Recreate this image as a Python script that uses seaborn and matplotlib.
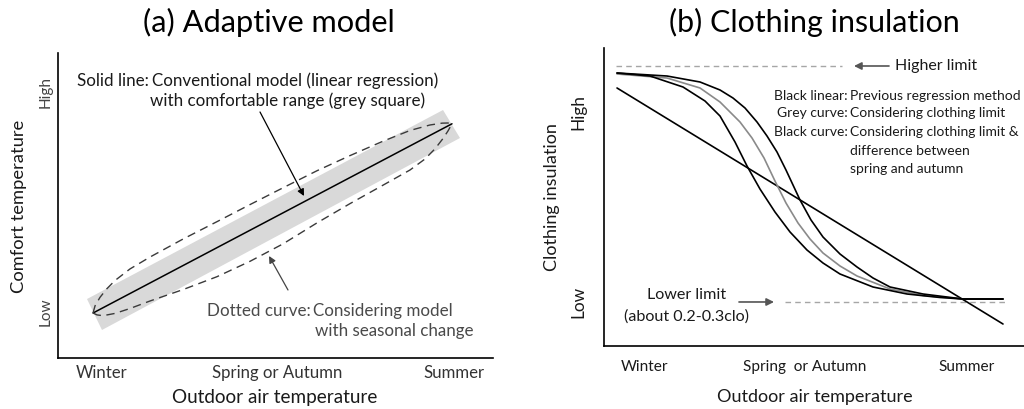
import matplotlib
matplotlib.use("Agg")
import matplotlib.pyplot as plt
import seaborn as sns

# ---------------- data: panel (a) Adaptive model ----------------
a_title = "(a) Adaptive model"
a_xlabel = "Outdoor air temperature"
a_ylabel = "Comfort temperature"
a_xtick_labels = ["Winter", "Spring or Autumn", "Summer"]
a_xtick_pos = [1.0, 5.05, 9.1]
a_ytick_labels = ["Low", "High"]
a_ytick_pos = [1.51, 8.72]

# conventional model (linear regression)
a_line_x = [0.805, 9.057]
a_line_y = [1.475, 7.679]
# comfortable range (grey band) corners
a_band_x = [0.667, 1.011, 9.241, 8.851]
a_band_y = [1.934, 0.918, 7.213, 8.131]
# seasonal-change model, upper dashed curve
a_upper_x = [0.805, 0.851, 0.966, 1.126, 1.310, 1.655, 2.115, 2.874, 3.655,
             4.414, 5.172, 5.954, 6.713, 7.471, 8.092, 8.552, 8.828, 8.966, 9.057]
a_upper_y = [1.475, 1.708, 1.990, 2.275, 2.540, 2.920, 3.310, 3.900, 4.470,
             5.030, 5.580, 6.140, 6.636, 7.108, 7.460, 7.640, 7.700, 7.705, 7.679]
# seasonal-change model, lower dashed curve
a_lower_x = [0.805, 0.897, 1.034, 1.310, 1.655, 2.115, 2.874, 3.655, 4.414,
             5.172, 5.954, 6.713, 7.471, 8.092, 8.437, 8.667, 8.851, 8.966, 9.057]
a_lower_y = [1.475, 1.413, 1.387, 1.462, 1.623, 1.869, 2.243, 2.666, 3.170,
             3.741, 4.430, 5.062, 5.666, 6.164, 6.525, 6.859, 7.197, 7.446, 7.679]

# ---------------- data: panel (b) Clothing insulation ----------------
b_title = "(b) Clothing insulation"
b_xlabel = "Outdoor air temperature"
b_ylabel = "Clothing insulation"
b_xtick_labels = ["Winter", "Spring  or Autumn", "Summer"]
b_xtick_pos = [0.976, 4.786, 8.643]
b_ytick_labels = ["Low", "High"]
b_ytick_pos = [1.477, 7.852]

b_linear_x = [0.310, 9.5]
b_linear_y = [8.658, 0.738]

b_black1_x = [0.310, 1.095, 1.881, 2.405, 2.762, 3.119, 3.405, 3.714, 4.071,
              4.429, 4.833, 5.214, 5.619, 6.405, 7.214, 8.0, 8.548, 9.5]
b_black1_y = [9.161, 9.060, 8.691, 8.221, 7.718, 6.846, 6.040, 5.268, 4.497,
              3.826, 3.221, 2.785, 2.416, 1.980, 1.745, 1.628, 1.577, 1.577]

b_grey_x = [0.310, 1.5, 2.286, 2.762, 3.238, 3.524, 3.810, 4.071, 4.333,
            4.619, 4.905, 5.214, 5.619, 6.024, 6.810, 7.595, 8.548, 9.5]
b_grey_y = [9.128, 8.993, 8.658, 8.188, 7.517, 6.980, 6.309, 5.537, 4.799,
            4.128, 3.591, 3.121, 2.685, 2.349, 1.913, 1.695, 1.577, 1.577]

b_black2_x = [0.310, 1.5, 2.286, 2.762, 3.071, 3.357, 3.643, 3.881, 4.119,
              4.333, 4.5, 4.667, 4.929, 5.214, 5.619, 6.024, 6.405, 6.810,
              7.595, 8.548, 9.5]
b_black2_y = [9.161, 9.060, 8.859, 8.591, 8.322, 7.987, 7.517, 7.047, 6.510,
              5.906, 5.403, 4.899, 4.228, 3.658, 3.087, 2.651, 2.282, 1.980,
              1.745, 1.577, 1.577]

b_high_limit = 9.396
b_high_limit_x = [0.286, 5.667]
b_low_limit = 1.477
b_low_limit_x = [4.310, 9.548]

# ---------------- style ----------------
sns.set_theme(style="white")
plt.rcParams["font.family"] = ["Lato", "DejaVu Sans"]
TXT = "#1a1a1a"
TXT_GREY = "#4a4a4a"

fig = plt.figure(figsize=(10.24, 4.09), dpi=100)
axA = fig.add_axes([58 / 1024, 51 / 409, 435 / 1024, 305 / 409])
axB = fig.add_axes([604 / 1024, 63 / 409, 420 / 1024, 298 / 409])

for ax in (axA, axB):
    ax.set_xlim(0, 10)
    ax.set_ylim(0, 10)
    for s in ("top", "right"):
        ax.spines[s].set_visible(False)
    for s in ("left", "bottom"):
        ax.spines[s].set_color("black")
        ax.spines[s].set_linewidth(1.2)
    ax.tick_params(length=0)

# ---- panel (a) ----
axA.fill(a_band_x, a_band_y, color="#d9d9d9", lw=0, zorder=0)
sns.lineplot(x=a_line_x, y=a_line_y, ax=axA, color="black", lw=1.1,
             sort=False, estimator=None)
for xs, ys in ((a_upper_x, a_upper_y), (a_lower_x, a_lower_y)):
    sns.lineplot(x=xs, y=ys, ax=axA, color="#3a3a3a", lw=1.0,
                 sort=False, estimator=None, linestyle=(0, (6, 4)))

axA.set_xticks(a_xtick_pos, a_xtick_labels, fontsize=11, color="#333333")
axA.set_yticks(a_ytick_pos, a_ytick_labels, fontsize=11, color="#444444",
               rotation=90, va="center")
axA.tick_params(axis="x", pad=5)
axA.tick_params(axis="y", pad=4)
axA.set_xlabel(a_xlabel, fontsize=12, color=TXT)
axA.xaxis.set_label_coords(0.499, -0.131)
axA.xaxis.label.set_va("center")
axA.set_ylabel(a_ylabel, fontsize=12, color=TXT)
axA.yaxis.set_label_coords(-0.090, 0.498)
axA.yaxis.label.set_va("center")
axA.set_title(a_title, fontsize=20, y=(358 - 22) / 305, x=0.485, va="center",
              pad=0, color="black")

ta = dict(fontsize=11, va="center")
a_texts = [
    axA.text(2.09, 9.08, "Solid line:", ha="right", color=TXT, **ta),
    axA.text(2.16, 9.08, "Conventional model (linear regression)", ha="left",
             color=TXT, **ta),
    axA.text(2.12, 8.43, "with comfortable range (grey square)", ha="left",
             color=TXT, **ta),
    axA.text(5.82, 1.54, "Dotted curve:", ha="right", color=TXT_GREY, **ta),
    axA.text(5.86, 1.54, "Considering model", ha="left", color=TXT_GREY, **ta),
    axA.text(5.91, 0.885, "with seasonal change", ha="left", color=TXT_GREY,
             **ta),
]
axA.annotate("", xy=(5.655, 5.311), xytext=(4.644, 8.066),
             arrowprops=dict(arrowstyle="-|>", color="black", lw=0.9,
                             mutation_scale=10, shrinkA=0, shrinkB=0))
axA.annotate("", xy=(4.851, 3.344), xytext=(5.287, 2.230),
             arrowprops=dict(arrowstyle="-|>", color="#444444", lw=0.9,
                             mutation_scale=10, shrinkA=0, shrinkB=0))

# ---- panel (b) ----
sns.lineplot(x=b_high_limit_x, y=[b_high_limit] * 2, ax=axB, color="#a6a6a6",
             lw=1.0, linestyle=(0, (4, 3)), sort=False, estimator=None)
sns.lineplot(x=b_low_limit_x, y=[b_low_limit] * 2, ax=axB, color="#a6a6a6",
             lw=1.0, linestyle=(0, (4, 3)), sort=False, estimator=None)
sns.lineplot(x=b_linear_x, y=b_linear_y, ax=axB, color="black", lw=1.2,
             sort=False, estimator=None)
sns.lineplot(x=b_grey_x, y=b_grey_y, ax=axB, color="#8a8a8a", lw=1.2,
             sort=False, estimator=None)
sns.lineplot(x=b_black1_x, y=b_black1_y, ax=axB, color="black", lw=1.2,
             sort=False, estimator=None)
sns.lineplot(x=b_black2_x, y=b_black2_y, ax=axB, color="black", lw=1.2,
             sort=False, estimator=None)

axB.set_xticks(b_xtick_pos, b_xtick_labels, fontsize=11, color=TXT)
axB.set_yticks(b_ytick_pos, b_ytick_labels, fontsize=11, color=TXT,
               rotation=90, va="center")
axB.tick_params(axis="x", pad=10)
axB.tick_params(axis="y", pad=13)
axB.set_xlabel(b_xlabel, fontsize=12, color=TXT)
axB.xaxis.set_label_coords(0.502, -0.171)
axB.xaxis.label.set_va("center")
axB.set_ylabel(b_ylabel, fontsize=12, color=TXT)
axB.yaxis.set_label_coords(-0.124, 0.5)
axB.yaxis.label.set_va("center")
axB.set_title(b_title, fontsize=20, y=(346 - 22) / 298, va="center", pad=0,
              color="black")

axB.annotate("", xy=(5.952, b_high_limit), xytext=(6.786, b_high_limit),
             arrowprops=dict(arrowstyle="-|>", color="#555555", lw=1.2,
                             mutation_scale=11, shrinkA=0, shrinkB=0))
t_high = axB.text(6.93, b_high_limit, "Higher limit", fontsize=11,
                  va="center", ha="left", color=TXT)
axB.annotate("", xy=(4.048, b_low_limit), xytext=(3.214, b_low_limit),
             arrowprops=dict(arrowstyle="-|>", color="#555555", lw=1.2,
                             mutation_scale=11, shrinkA=0, shrinkB=0))
t_low1 = axB.text(1.976, 1.711, "Lower limit", fontsize=11, va="center",
                  ha="center", color=TXT)
t_low2 = axB.text(1.976, 0.973, "(about 0.2-0.3clo)", fontsize=11,
                  va="center", ha="center", color=TXT)

tb = dict(fontsize=9, color=TXT, va="center", clip_on=False)
b_texts = [
    axB.text(5.80, 8.389, "Black linear:", ha="right", **tb),
    axB.text(5.86, 8.389, "Previous regression method", ha="left", **tb),
    axB.text(5.80, 7.819, "Grey curve:", ha="right", **tb),
    axB.text(5.86, 7.819, "Considering clothing limit", ha="left", **tb),
    axB.text(5.80, 7.181, "Black curve:", ha="right", **tb),
    axB.text(5.86, 7.181, "Considering clothing limit &", ha="left", **tb),
    axB.text(5.86, 6.544, "difference between", ha="left", **tb),
    axB.text(5.86, 5.940, "spring and autumn", ha="left", **tb),
]

# ---- scale font sizes so that text extents match the reference layout ----
fig.canvas.draw()
R = fig.canvas.get_renderer()


def factor(t, target, vertical=False):
    bb = t.get_window_extent(R)
    return target / (bb.height if vertical else bb.width)


def scale_group(texts, f):
    for t in texts:
        t.set_fontsize(t.get_fontsize() * f)


scale_group(a_texts, factor(a_texts[1], 287))
scale_group(b_texts, factor(b_texts[1], 170))
scale_group([axA.title], factor(axA.title, 252))
scale_group([axB.title], factor(axB.title, 291))
scale_group([axA.xaxis.label], factor(axA.xaxis.label, 204))
scale_group([axB.xaxis.label], factor(axB.xaxis.label, 195))
scale_group([axA.yaxis.label], factor(axA.yaxis.label, 173, True))
scale_group([axB.yaxis.label], factor(axB.yaxis.label, 147, True))
scale_group([t_high], factor(t_high, 82))
fl = factor(t_low2, 125)
scale_group([t_low1, t_low2], fl)

fa = factor(axA.get_xticklabels()[1], 130)
axA.tick_params(axis="x", labelsize=11 * fa)
fb = factor(axB.get_xticklabels()[1], 124)
axB.tick_params(axis="x", labelsize=11 * fb)
fay = factor(axA.get_yticklabels()[1], 32, True)
axA.tick_params(axis="y", labelsize=11 * fay)
fby = factor(axB.get_yticklabels()[1], 36, True)
axB.tick_params(axis="y", labelsize=11 * fby)

fig.savefig("out.png", dpi=100)
